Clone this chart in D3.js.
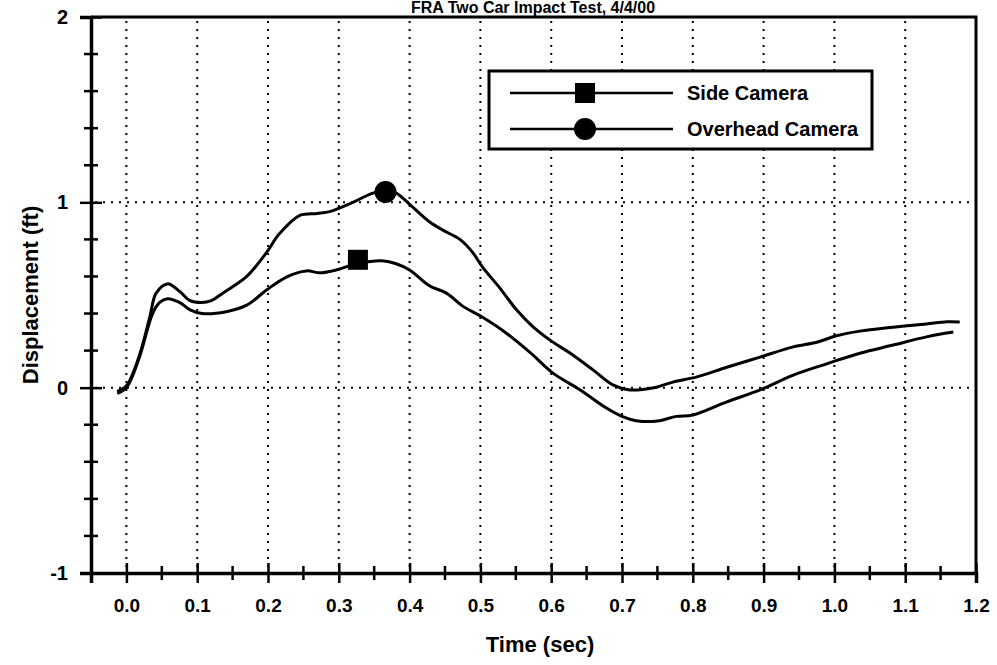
<!DOCTYPE html>
<html>
<head>
<meta charset="utf-8">
<script src="https://cdn.jsdelivr.net/npm/d3@7"></script>
<style>
  body { margin: 0; background: #fff; }
  svg { display: block; }
  text { font-family: "Liberation Sans", Arial, sans-serif; font-weight: bold; fill: #000; }
</style>
</head>
<body>
<svg id="chart" width="997" height="665"></svg>
<script>
  // data (time in sec, displacement in ft)
  const sideTime = [-0.013, 0.0, 0.018, 0.037, 0.047, 0.058, 0.075, 0.09, 0.107, 0.141, 0.17, 0.198, 0.226, 0.254, 0.273, 0.291, 0.327, 0.36, 0.38, 0.40, 0.428, 0.452, 0.475, 0.503, 0.531, 0.57, 0.602, 0.64, 0.678, 0.70, 0.72, 0.75, 0.777, 0.80, 0.848, 0.895, 0.942, 0.99, 1.036, 1.083, 1.13, 1.168];
  const sideDisp = [-0.03, 0.0, 0.16, 0.40, 0.46, 0.48, 0.46, 0.42, 0.40, 0.41, 0.445, 0.527, 0.597, 0.63, 0.62, 0.63, 0.67, 0.685, 0.67, 0.635, 0.55, 0.51, 0.44, 0.38, 0.31, 0.19, 0.08, -0.01, -0.11, -0.155, -0.178, -0.18, -0.155, -0.148, -0.077, -0.012, 0.068, 0.13, 0.186, 0.23, 0.274, 0.30];

  const overTime = [-0.013, 0.0, 0.018, 0.033, 0.042, 0.058, 0.075, 0.09, 0.106, 0.12, 0.136, 0.17, 0.198, 0.216, 0.245, 0.27, 0.287, 0.32, 0.348, 0.366, 0.381, 0.404, 0.428, 0.447, 0.471, 0.489, 0.503, 0.527, 0.551, 0.574, 0.602, 0.626, 0.659, 0.687, 0.711, 0.745, 0.772, 0.806, 0.848, 0.895, 0.942, 0.975, 1.003, 1.036, 1.083, 1.13, 1.159, 1.177];
  const overDisp = [-0.02, 0.01, 0.17, 0.38, 0.51, 0.56, 0.52, 0.47, 0.46, 0.47, 0.51, 0.60, 0.73, 0.83, 0.93, 0.94, 0.95, 1.0, 1.05, 1.06, 1.05, 0.975, 0.895, 0.85, 0.80, 0.73, 0.65, 0.54, 0.42, 0.33, 0.247, 0.188, 0.096, 0.015, -0.012, 0.0, 0.03, 0.058, 0.11, 0.165, 0.22, 0.245, 0.28, 0.305, 0.326, 0.344, 0.355, 0.354];

  // one marker per series
  const sideMarker = [0.327, 0.69];
  const overMarker = [0.366, 1.056];

  const seriesNames = ["Side Camera", "Overhead Camera"];
  const xMajor = [0.0, 0.1, 0.2, 0.3, 0.4, 0.5, 0.6, 0.7, 0.8, 0.9, 1.0, 1.1, 1.2];
  const xMinor = [0.05, 0.15, 0.25, 0.35, 0.45, 0.55, 0.65, 0.75, 0.85, 0.95, 1.05, 1.15];
  const yMajor = [-1, 0, 1, 2];
  const yMinor = [-0.8, -0.6, -0.4, -0.2, 0.2, 0.4, 0.6, 0.8, 1.2, 1.4, 1.6, 1.8];
  const yGrid = [0, 1];

  const svg = d3.select("#chart");
  const m = { left: 91, right: 976, top: 17, bottom: 573 };

  const x = d3.scaleLinear().domain([-0.05, 1.2]).range([m.left, m.right]);
  const y = d3.scaleLinear().domain([-1, 2]).range([m.bottom, m.top]);

  // dotted grid
  const grid = svg.append("g").attr("stroke", "#000").attr("stroke-width", 2)
    .attr("stroke-dasharray", "2,6");
  grid.selectAll(".vg").data(xMajor.slice(0, -1)).enter().append("line")
    .attr("x1", d => x(d)).attr("x2", d => x(d))
    .attr("y1", m.top + 4).attr("y2", m.bottom);
  grid.selectAll(".hg").data(yGrid).enter().append("line")
    .attr("x1", m.left + 4).attr("x2", m.right)
    .attr("y1", d => y(d)).attr("y2", d => y(d));

  // frame top / right
  svg.append("path")
    .attr("d", `M${m.left},${m.top}H${m.right}V${m.bottom}`)
    .attr("fill", "none").attr("stroke", "#000").attr("stroke-width", 3);

  // axes
  const xAxis = svg.append("g").attr("transform", `translate(0,${m.bottom})`)
    .call(d3.axisBottom(x).tickValues(xMajor).tickFormat(d3.format(".1f")).tickSize(10).tickPadding(16));
  xAxis.selectAll(".tick line").attr("y1", -10).attr("stroke-width", 2.5);
  xAxis.selectAll(".tick text").attr("font-size", 19).attr("font-family", null);
  xAxis.select(".domain").attr("stroke-width", 3.5);

  const yAxis = svg.append("g").attr("transform", `translate(${m.left},0)`)
    .call(d3.axisLeft(y).tickValues(yMajor).tickFormat(d => String(d)).tickSize(11).tickPadding(12));
  yAxis.selectAll(".tick line").attr("x1", 11).attr("stroke-width", 2.5);
  yAxis.selectAll(".tick text").attr("font-size", 20).attr("font-family", null);
  yAxis.select(".domain").attr("stroke-width", 3.5);

  // minor ticks
  svg.append("g").selectAll("line").data(xMinor).enter().append("line")
    .attr("x1", d => x(d)).attr("x2", d => x(d))
    .attr("y1", m.bottom - 7).attr("y2", m.bottom + 7)
    .attr("stroke", "#000").attr("stroke-width", 2.5);
  svg.append("g").selectAll("line").data(yMinor).enter().append("line")
    .attr("y1", d => y(d)).attr("y2", d => y(d))
    .attr("x1", m.left - 7).attr("x2", m.left + 7)
    .attr("stroke", "#000").attr("stroke-width", 2.5);

  // curves
  const line = d3.line().x(d => x(d[0])).y(d => y(d[1])).curve(d3.curveCatmullRom);
  const sideData = sideTime.map((t, i) => [t, sideDisp[i]]);
  const overData = overTime.map((t, i) => [t, overDisp[i]]);
  [sideData, overData].forEach(s => {
    svg.append("path").datum(s).attr("d", line)
      .attr("fill", "none").attr("stroke", "#000").attr("stroke-width", 3);
  });

  const sq = 20;
  svg.append("rect")
    .attr("x", x(sideMarker[0]) - sq / 2).attr("y", y(sideMarker[1]) - sq / 2)
    .attr("width", sq).attr("height", sq).attr("fill", "#000");
  svg.append("circle")
    .attr("cx", x(overMarker[0])).attr("cy", y(overMarker[1])).attr("r", 11).attr("fill", "#000");

  // legend
  const lg = svg.append("g");
  lg.append("rect").attr("x", 489).attr("y", 71).attr("width", 383).attr("height", 78)
    .attr("fill", "#fff").attr("stroke", "#000").attr("stroke-width", 3);
  seriesNames.forEach((name, i) => {
    const ly = 93 + i * 36;
    lg.append("line").attr("x1", 510).attr("x2", 673).attr("y1", ly).attr("y2", ly)
      .attr("stroke", "#000").attr("stroke-width", 2.5);
    if (i === 0) {
      lg.append("rect").attr("x", 585 - sq / 2).attr("y", ly - sq / 2)
        .attr("width", sq).attr("height", sq).attr("fill", "#000");
    } else {
      lg.append("circle").attr("cx", 585).attr("cy", ly).attr("r", 11).attr("fill", "#000");
    }
    lg.append("text").attr("x", 687).attr("y", ly + 7).attr("font-size", 20).text(name);
  });

  // titles
  svg.append("text").attr("x", 533).attr("y", 13).attr("text-anchor", "middle")
    .attr("font-size", 16).text("FRA Two Car Impact Test, 4/4/00");
  svg.append("text").attr("x", 540).attr("y", 652).attr("text-anchor", "middle")
    .attr("font-size", 22).text("Time (sec)");
  svg.append("text").attr("transform", "translate(38,295) rotate(-90)")
    .attr("text-anchor", "middle").attr("font-size", 22).text("Displacement (ft)");
</script>
</body>
</html>
